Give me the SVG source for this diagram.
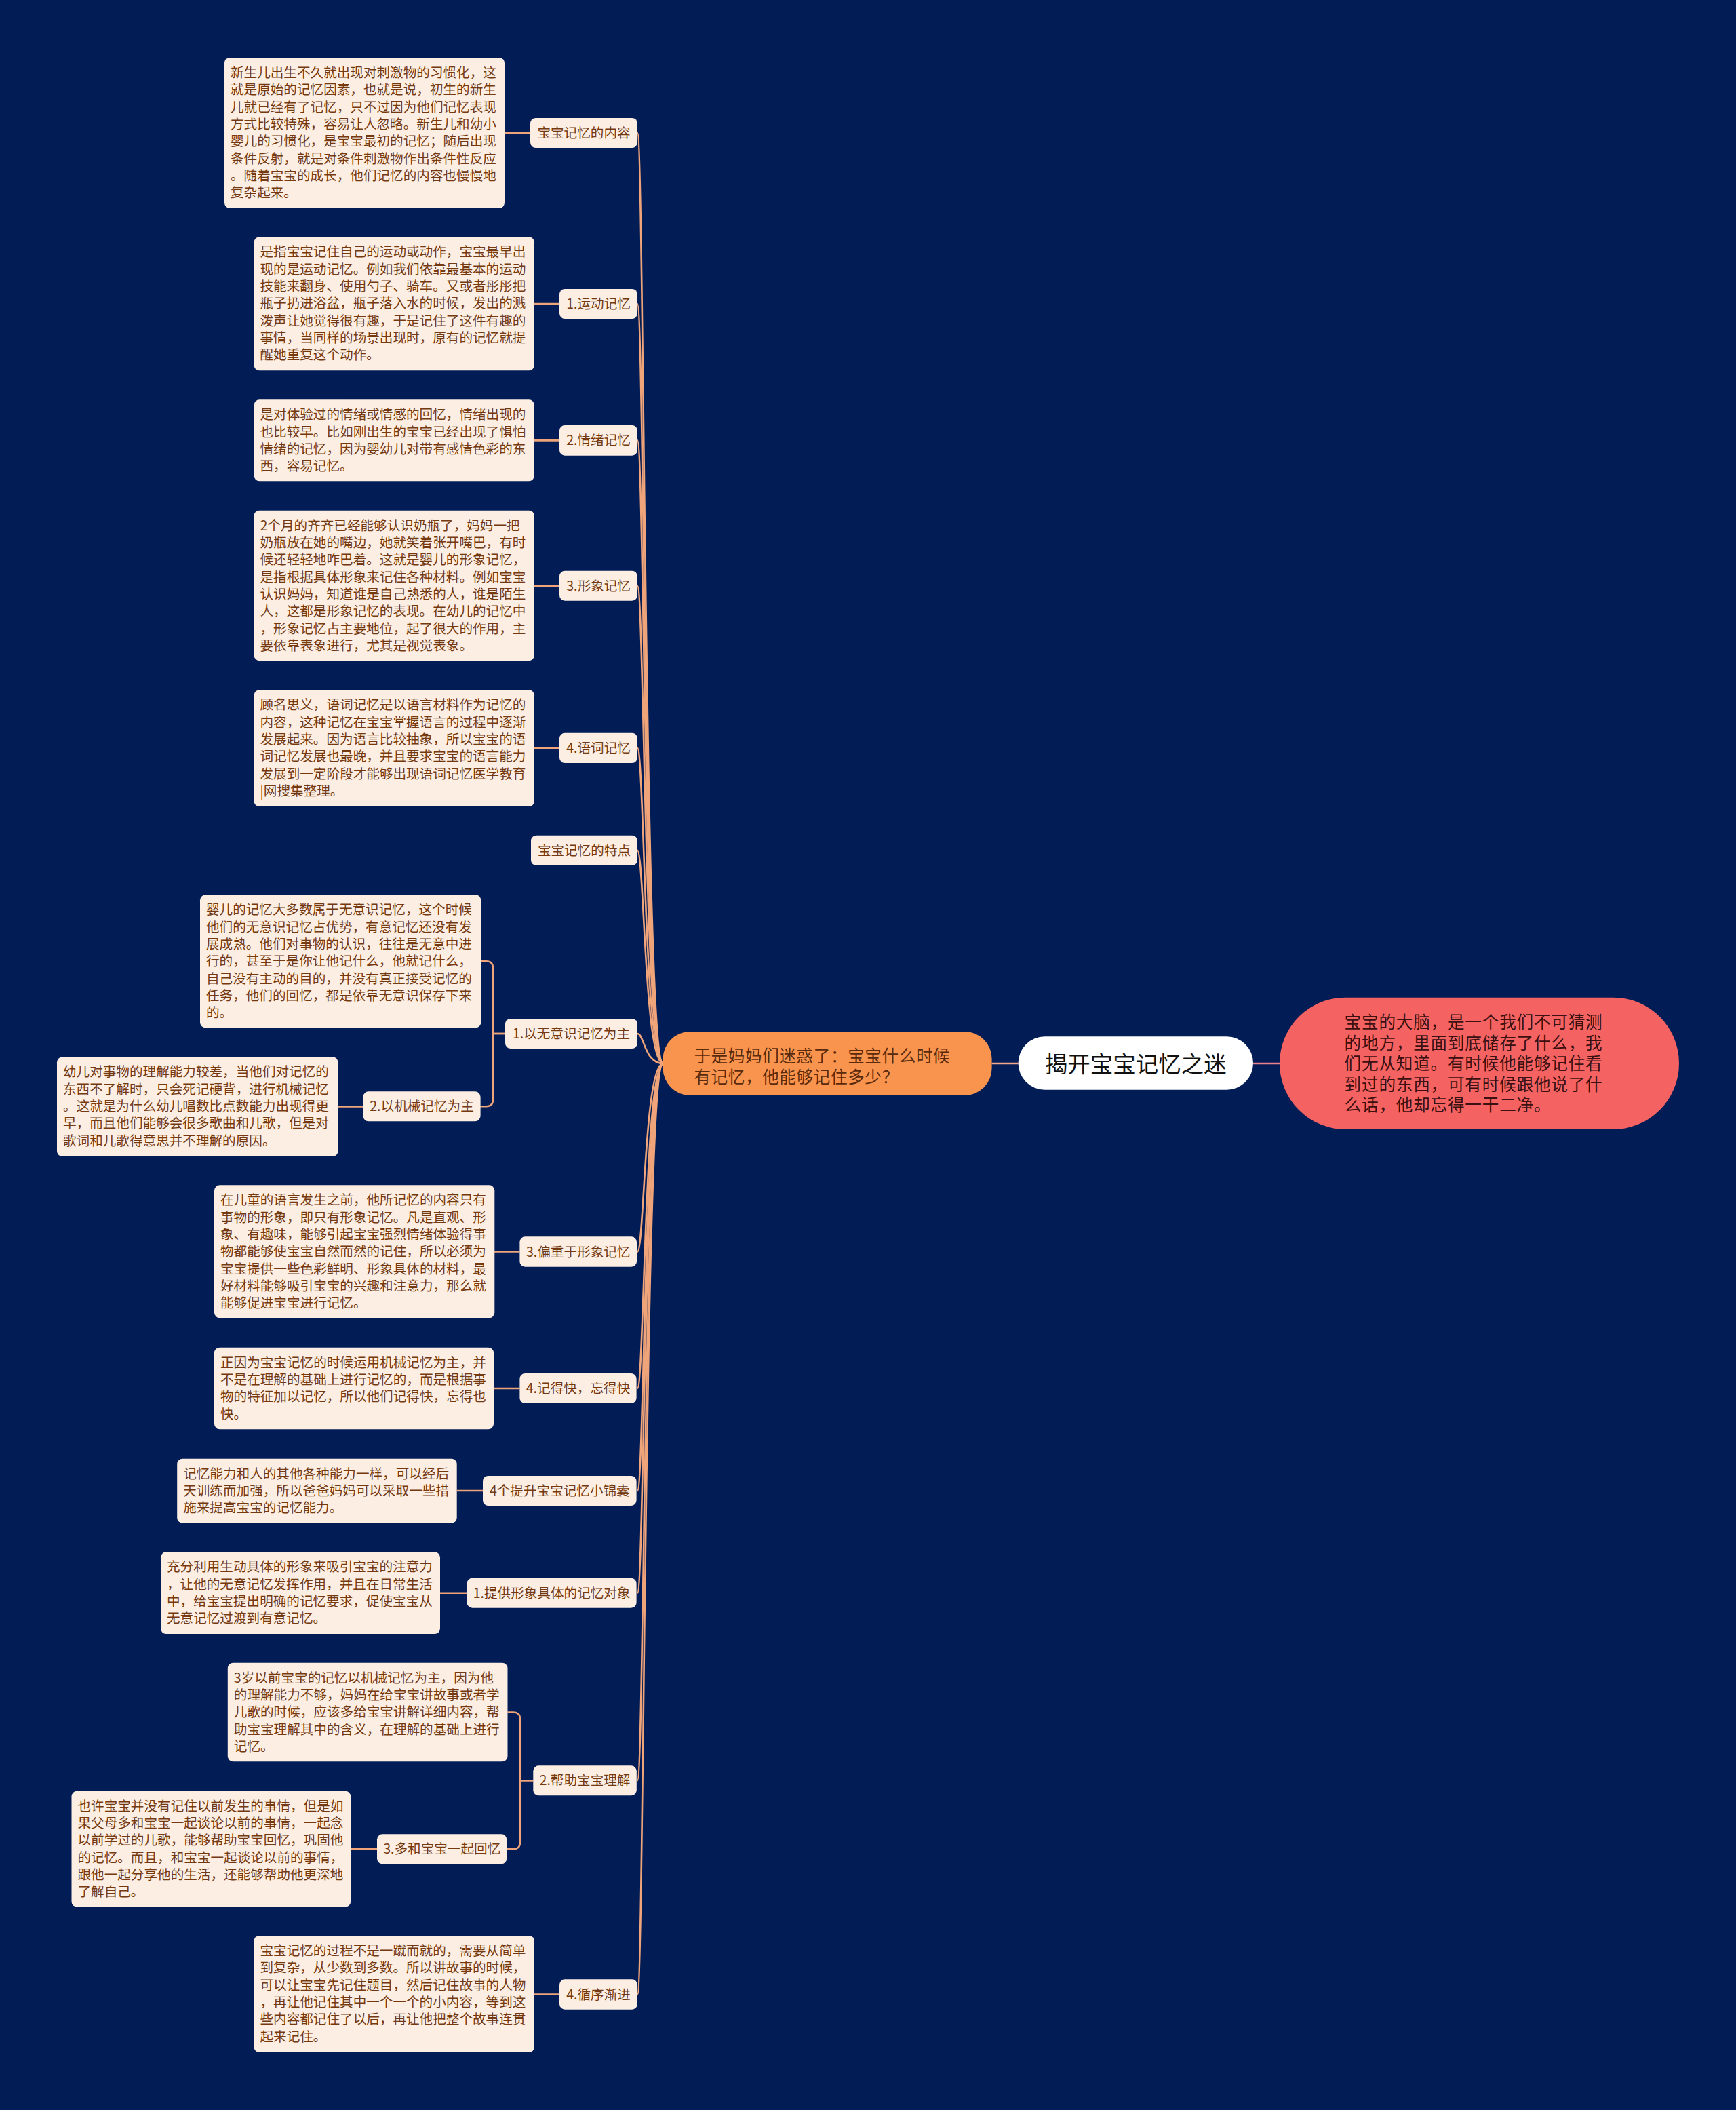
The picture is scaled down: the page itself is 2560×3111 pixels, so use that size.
<svg xmlns="http://www.w3.org/2000/svg" width="2560" height="3111" viewBox="0 0 2560 3111">
<style>
.bg{fill:#021D56}
.box{fill:#FDEEE4}
.t{font-family:"Noto Sans CJK SC","Noto Sans",sans-serif;font-size:19.6px;fill:#74390F}
.lt{font-family:"Noto Sans CJK SC","Noto Sans",sans-serif;font-size:19.6px;fill:#74390F;text-anchor:middle}
.conn{fill:none;stroke:#F0A47A;stroke-width:2.6}
</style>
<rect class="bg" x="0" y="0" width="2560" height="3111"/>
<g id="connectors">
<path class="conn" d="M978 1568 C950 1568 950 196 940 196"/>
<path class="conn" d="M978 1568 C950 1568 950 448 940 448"/>
<path class="conn" d="M978 1568 C950 1568 950 649.4 940 649.4"/>
<path class="conn" d="M978 1568 C950 1568 950 863.7 940 863.7"/>
<path class="conn" d="M978 1568 C950 1568 950 1102.9 940 1102.9"/>
<path class="conn" d="M978 1568 C950 1568 950 1253.8 940 1253.8"/>
<path class="conn" d="M978 1568 C950 1568 950 1524 940 1524"/>
<path class="conn" d="M978 1568 C950 1568 950 1845.5 940 1845.5"/>
<path class="conn" d="M978 1568 C950 1568 950 2047 940 2047"/>
<path class="conn" d="M978 1568 C950 1568 950 2198 940 2198"/>
<path class="conn" d="M978 1568 C950 1568 950 2348.7 940 2348.7"/>
<path class="conn" d="M978 1568 C950 1568 950 2625.3 940 2625.3"/>
<path class="conn" d="M978 1568 C950 1568 950 2940.5 940 2940.5"/>
<path class="conn" d="M744 196 H782"/>
<path class="conn" d="M788 448 H825"/>
<path class="conn" d="M788 649.4 H825"/>
<path class="conn" d="M788 863.7 H825"/>
<path class="conn" d="M788 1102.9 H825"/>
<path class="conn" d="M745 1524 H727 V1427.2 Q727 1417.2 717 1417.2 H709"/>
<path class="conn" d="M745 1524 H727 V1621.3 Q727 1631.3 717 1631.3 H708"/>
<path class="conn" d="M498.5 1631.5 H535.4"/>
<path class="conn" d="M729 1845.5 H766.4"/>
<path class="conn" d="M728 2047 H766.4"/>
<path class="conn" d="M673.7 2198 H712"/>
<path class="conn" d="M649 2348.7 H688.6"/>
<path class="conn" d="M786.3 2625.3 H767 V2534.5 Q767 2524.5 757 2524.5 H748.5"/>
<path class="conn" d="M786.3 2625.3 H767 V2716.3 Q767 2726.3 757 2726.3 H747.4"/>
<path class="conn" d="M517.2 2726.3 H556"/>
<path class="conn" d="M788 2940.5 H825"/>
<path fill="none" stroke="#F2A88A" stroke-width="2.6" d="M1462.5 1568 H1501.6"/>
<path fill="none" stroke="#E9808C" stroke-width="2.6" d="M1848 1568 H1887"/>
</g>
<g id="root">
<rect x="1501.6" y="1528.3" width="346.4" height="78.4" rx="39" fill="#FFFFFF"/>
<text x="1674.8" y="1580.5" font-family="Noto Sans CJK SC, Noto Sans, sans-serif" font-size="33.5" fill="#111111" text-anchor="middle">揭开宝宝记忆之迷</text>
</g>
<g id="red-node">
<rect x="1887" y="1470.7" width="589" height="194.3" rx="97" fill="#F56262"/>
<text font-family="Noto Sans CJK SC, Noto Sans, sans-serif" font-size="24.6" letter-spacing="0.8" fill="#3A1010"><tspan x="1982.6" y="1516">宝宝的大脑，是一个我们不可猜测</tspan><tspan x="1982.6" dy="30.6">的地方，里面到底储存了什么，我</tspan><tspan x="1982.6" dy="30.6">们无从知道。有时候他能够记住看</tspan><tspan x="1982.6" dy="30.6">到过的东西，可有时候跟他说了什</tspan><tspan x="1982.6" dy="30.6">么话，他却忘得一干二净。</tspan></text>
</g>
<g id="orange-node">
<rect x="977.6" y="1521" width="485" height="94" rx="40" fill="#F9944F"/>
<text font-family="Noto Sans CJK SC, Noto Sans, sans-serif" font-size="24.6" letter-spacing="0.6" fill="#5A2A0C"><tspan x="1023.4" y="1566">于是妈妈们迷惑了：宝宝什么时候</tspan><tspan x="1023.4" dy="30.6">有记忆，他能够记住多少？</tspan></text>
</g>
<g id="n-content">
<rect class="box" x="782" y="174" width="158" height="44" rx="8"/>
<text class="lt" x="861" y="203">宝宝记忆的内容</text>
</g>
<g id="n-content-text">
<rect class="box" x="331" y="85" width="413" height="222" rx="8"/>
<text class="t"><tspan x="340" y="114">新生儿出生不久就出现对刺激物的习惯化，这</tspan><tspan x="340" dy="25.3">就是原始的记忆因素，也就是说，初生的新生</tspan><tspan x="340" dy="25.3">儿就已经有了记忆，只不过因为他们记忆表现</tspan><tspan x="340" dy="25.3">方式比较特殊，容易让人忽略。新生儿和幼小</tspan><tspan x="340" dy="25.3">婴儿的习惯化，是宝宝最初的记忆；随后出现</tspan><tspan x="340" dy="25.3">条件反射，就是对条件刺激物作出条件性反应</tspan><tspan x="340" dy="25.3">。随着宝宝的成长，他们记忆的内容也慢慢地</tspan><tspan x="340" dy="25.3">复杂起来。</tspan></text>
</g>
<g id="n-motion">
<rect class="box" x="825" y="426" width="115" height="44" rx="8"/>
<text class="lt" x="882.5" y="455">1.运动记忆</text>
</g>
<g id="n-motion-text">
<rect class="box" x="374.5" y="349.3" width="413.5" height="197" rx="8"/>
<text class="t"><tspan x="383.5" y="378.3">是指宝宝记住自己的运动或动作，宝宝最早出</tspan><tspan x="383.5" dy="25.3">现的是运动记忆。例如我们依靠最基本的运动</tspan><tspan x="383.5" dy="25.3">技能来翻身、使用勺子、骑车。又或者彤彤把</tspan><tspan x="383.5" dy="25.3">瓶子扔进浴盆，瓶子落入水的时候，发出的溅</tspan><tspan x="383.5" dy="25.3">泼声让她觉得很有趣，于是记住了这件有趣的</tspan><tspan x="383.5" dy="25.3">事情，当同样的场景出现时，原有的记忆就提</tspan><tspan x="383.5" dy="25.3">醒她重复这个动作。</tspan></text>
</g>
<g id="n-emotion">
<rect class="box" x="825" y="627" width="115" height="44.7" rx="8"/>
<text class="lt" x="882.5" y="656.4">2.情绪记忆</text>
</g>
<g id="n-emotion-text">
<rect class="box" x="374.5" y="589.3" width="413.5" height="120" rx="8"/>
<text class="t"><tspan x="383.5" y="618.3">是对体验过的情绪或情感的回忆，情绪出现的</tspan><tspan x="383.5" dy="25.3">也比较早。比如刚出生的宝宝已经出现了惧怕</tspan><tspan x="383.5" dy="25.3">情绪的记忆，因为婴幼儿对带有感情色彩的东</tspan><tspan x="383.5" dy="25.3">西，容易记忆。</tspan></text>
</g>
<g id="n-image">
<rect class="box" x="825" y="841.7" width="115" height="44" rx="8"/>
<text class="lt" x="882.5" y="870.7">3.形象记忆</text>
</g>
<g id="n-image-text">
<rect class="box" x="374.5" y="752.7" width="413.5" height="221.5" rx="8"/>
<text class="t"><tspan x="383.5" y="781.7">2个月的齐齐已经能够认识奶瓶了，妈妈一把</tspan><tspan x="383.5" dy="25.3">奶瓶放在她的嘴边，她就笑着张开嘴巴，有时</tspan><tspan x="383.5" dy="25.3">候还轻轻地咋巴着。这就是婴儿的形象记忆，</tspan><tspan x="383.5" dy="25.3">是指根据具体形象来记住各种材料。例如宝宝</tspan><tspan x="383.5" dy="25.3">认识妈妈，知道谁是自己熟悉的人，谁是陌生</tspan><tspan x="383.5" dy="25.3">人，这都是形象记忆的表现。在幼儿的记忆中</tspan><tspan x="383.5" dy="25.3">，形象记忆占主要地位，起了很大的作用，主</tspan><tspan x="383.5" dy="25.3">要依靠表象进行，尤其是视觉表象。</tspan></text>
</g>
<g id="n-word">
<rect class="box" x="825" y="1080.7" width="115" height="44.3" rx="8"/>
<text class="lt" x="882.5" y="1109.9">4.语词记忆</text>
</g>
<g id="n-word-text">
<rect class="box" x="374.5" y="1017.3" width="413.5" height="171.7" rx="8"/>
<text class="t"><tspan x="383.5" y="1046.3">顾名思义，语词记忆是以语言材料作为记忆的</tspan><tspan x="383.5" dy="25.3">内容，这种记忆在宝宝掌握语言的过程中逐渐</tspan><tspan x="383.5" dy="25.3">发展起来。因为语言比较抽象，所以宝宝的语</tspan><tspan x="383.5" dy="25.3">词记忆发展也最晚，并且要求宝宝的语言能力</tspan><tspan x="383.5" dy="25.3">发展到一定阶段才能够出现语词记忆医学教育</tspan><tspan x="383.5" dy="25.3">|网搜集整理。</tspan></text>
</g>
<g id="n-feature">
<rect class="box" x="783" y="1231.7" width="157" height="44.3" rx="8"/>
<text class="lt" x="861.5" y="1260.8">宝宝记忆的特点</text>
</g>
<g id="n-unconscious">
<rect class="box" x="745" y="1502" width="195" height="44" rx="8"/>
<text class="lt" x="842.5" y="1531">1.以无意识记忆为主</text>
</g>
<g id="n-unconscious-text">
<rect class="box" x="295" y="1319.3" width="414.4" height="196" rx="8"/>
<text class="t"><tspan x="304" y="1348.3">婴儿的记忆大多数属于无意识记忆，这个时候</tspan><tspan x="304" dy="25.3">他们的无意识记忆占优势，有意记忆还没有发</tspan><tspan x="304" dy="25.3">展成熟。他们对事物的认识，往往是无意中进</tspan><tspan x="304" dy="25.3">行的，甚至于是你让他记什么，他就记什么，</tspan><tspan x="304" dy="25.3">自己没有主动的目的，并没有真正接受记忆的</tspan><tspan x="304" dy="25.3">任务，他们的回忆，都是依靠无意识保存下来</tspan><tspan x="304" dy="25.3">的。</tspan></text>
</g>
<g id="n-mechanical">
<rect class="box" x="535.4" y="1609.3" width="173.2" height="44" rx="8"/>
<text class="lt" x="622" y="1638.3">2.以机械记忆为主</text>
</g>
<g id="n-mechanical-text">
<rect class="box" x="84" y="1558.3" width="414.5" height="146.7" rx="8"/>
<text class="t"><tspan x="93" y="1587.3">幼儿对事物的理解能力较差，当他们对记忆的</tspan><tspan x="93" dy="25.3">东西不了解时，只会死记硬背，进行机械记忆</tspan><tspan x="93" dy="25.3">。这就是为什么幼儿唱数比点数能力出现得更</tspan><tspan x="93" dy="25.3">早，而且他们能够会很多歌曲和儿歌，但是对</tspan><tspan x="93" dy="25.3">歌词和儿歌得意思并不理解的原因。</tspan></text>
</g>
<g id="n-image2">
<rect class="box" x="766.4" y="1823.3" width="172.6" height="44.4" rx="8"/>
<text class="lt" x="852.7" y="1852.5">3.偏重于形象记忆</text>
</g>
<g id="n-image2-text">
<rect class="box" x="316" y="1747.3" width="413.3" height="196" rx="8"/>
<text class="t"><tspan x="325" y="1776.3">在儿童的语言发生之前，他所记忆的内容只有</tspan><tspan x="325" dy="25.3">事物的形象，即只有形象记忆。凡是直观、形</tspan><tspan x="325" dy="25.3">象、有趣味，能够引起宝宝强烈情绪体验得事</tspan><tspan x="325" dy="25.3">物都能够使宝宝自然而然的记住，所以必须为</tspan><tspan x="325" dy="25.3">宝宝提供一些色彩鲜明、形象具体的材料，最</tspan><tspan x="325" dy="25.3">好材料能够吸引宝宝的兴趣和注意力，那么就</tspan><tspan x="325" dy="25.3">能够促进宝宝进行记忆。</tspan></text>
</g>
<g id="n-fast">
<rect class="box" x="766.4" y="2025" width="172.2" height="44" rx="8"/>
<text class="lt" x="852.5" y="2054">4.记得快，忘得快</text>
</g>
<g id="n-fast-text">
<rect class="box" x="316" y="1986.7" width="412" height="120.6" rx="8"/>
<text class="t"><tspan x="325" y="2015.7">正因为宝宝记忆的时候运用机械记忆为主，并</tspan><tspan x="325" dy="25.3">不是在理解的基础上进行记忆的，而是根据事</tspan><tspan x="325" dy="25.3">物的特征加以记忆，所以他们记得快，忘得也</tspan><tspan x="325" dy="25.3">快。</tspan></text>
</g>
<g id="n-tips">
<rect class="box" x="712" y="2176" width="226.6" height="44" rx="8"/>
<text class="lt" x="825.3" y="2205">4个提升宝宝记忆小锦囊</text>
</g>
<g id="n-tips-text">
<rect class="box" x="261.2" y="2150.7" width="412.5" height="95" rx="8"/>
<text class="t"><tspan x="270.2" y="2179.7">记忆能力和人的其他各种能力一样，可以经后</tspan><tspan x="270.2" dy="25.3">天训练而加强，所以爸爸妈妈可以采取一些措</tspan><tspan x="270.2" dy="25.3">施来提高宝宝的记忆能力。</tspan></text>
</g>
<g id="n-provide">
<rect class="box" x="688.6" y="2326.7" width="250" height="44" rx="8"/>
<text class="lt" x="813.6" y="2355.7">1.提供形象具体的记忆对象</text>
</g>
<g id="n-provide-text">
<rect class="box" x="237" y="2288.3" width="412" height="120.7" rx="8"/>
<text class="t"><tspan x="246" y="2317.3">充分利用生动具体的形象来吸引宝宝的注意力</tspan><tspan x="246" dy="25.3">，让他的无意记忆发挥作用，并且在日常生活</tspan><tspan x="246" dy="25.3">中，给宝宝提出明确的记忆要求，促使宝宝从</tspan><tspan x="246" dy="25.3">无意记忆过渡到有意记忆。</tspan></text>
</g>
<g id="n-help">
<rect class="box" x="786.3" y="2603.3" width="152.5" height="44" rx="8"/>
<text class="lt" x="862.5" y="2632.3">2.帮助宝宝理解</text>
</g>
<g id="n-help-text">
<rect class="box" x="335.8" y="2451.7" width="412.7" height="145.6" rx="8"/>
<text class="t"><tspan x="344.8" y="2480.7">3岁以前宝宝的记忆以机械记忆为主，因为他</tspan><tspan x="344.8" dy="25.3">的理解能力不够，妈妈在给宝宝讲故事或者学</tspan><tspan x="344.8" dy="25.3">儿歌的时候，应该多给宝宝讲解详细内容，帮</tspan><tspan x="344.8" dy="25.3">助宝宝理解其中的含义，在理解的基础上进行</tspan><tspan x="344.8" dy="25.3">记忆。</tspan></text>
</g>
<g id="n-recall">
<rect class="box" x="556" y="2704.3" width="191.4" height="44" rx="8"/>
<text class="lt" x="651.7" y="2733.3">3.多和宝宝一起回忆</text>
</g>
<g id="n-recall-text">
<rect class="box" x="105.5" y="2640.7" width="411.7" height="171" rx="8"/>
<text class="t"><tspan x="114.5" y="2669.7">也许宝宝并没有记住以前发生的事情，但是如</tspan><tspan x="114.5" dy="25.3">果父母多和宝宝一起谈论以前的事情，一起念</tspan><tspan x="114.5" dy="25.3">以前学过的儿歌，能够帮助宝宝回忆，巩固他</tspan><tspan x="114.5" dy="25.3">的记忆。而且，和宝宝一起谈论以前的事情，</tspan><tspan x="114.5" dy="25.3">跟他一起分享他的生活，还能够帮助他更深地</tspan><tspan x="114.5" dy="25.3">了解自己。</tspan></text>
</g>
<g id="n-gradual">
<rect class="box" x="825" y="2918.3" width="115" height="44.4" rx="8"/>
<text class="lt" x="882.5" y="2947.5">4.循序渐进</text>
</g>
<g id="n-gradual-text">
<rect class="box" x="374.5" y="2854" width="413.5" height="172" rx="8"/>
<text class="t"><tspan x="383.5" y="2883">宝宝记忆的过程不是一蹴而就的，需要从简单</tspan><tspan x="383.5" dy="25.3">到复杂，从少数到多数。所以讲故事的时候，</tspan><tspan x="383.5" dy="25.3">可以让宝宝先记住题目，然后记住故事的人物</tspan><tspan x="383.5" dy="25.3">，再让他记住其中一个一个的小内容，等到这</tspan><tspan x="383.5" dy="25.3">些内容都记住了以后，再让他把整个故事连贯</tspan><tspan x="383.5" dy="25.3">起来记住。</tspan></text>
</g>
</svg>
